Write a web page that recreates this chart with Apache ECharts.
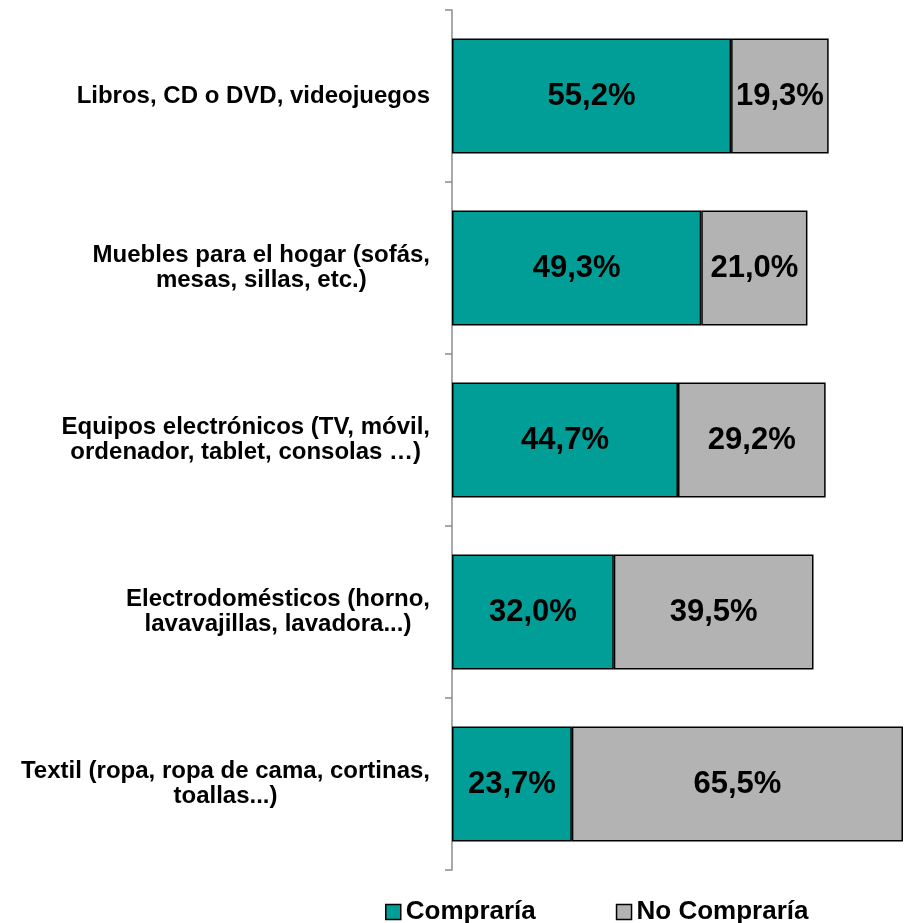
<!DOCTYPE html>
<html>
<head>
<meta charset="utf-8">
<script src="https://cdn.jsdelivr.net/npm/echarts@6/dist/echarts.min.js"></script>
<style>
html,body{margin:0;padding:0;background:#fff;}
#c{width:905px;height:923px;}
</style>
</head>
<body>
<div id="c"></div>
<script>
const categories = [
  "Libros, CD o DVD, videojuegos",
  "Muebles para el hogar (sofás,\nmesas, sillas, etc.)",
  "Equipos electrónicos (TV, móvil,\nordenador, tablet, consolas …)",
  "Electrodomésticos (horno,\nlavavajillas, lavadora...)",
  "Textil (ropa, ropa de cama, cortinas,\ntoallas...)"
];
const compraria = [55.2, 49.3, 44.7, 32.0, 23.7];
const noCompraria = [19.3, 21.0, 29.2, 39.5, 65.5];
const seriesNames = ["Compraría", "No Compraría"];

const FONT = "'Liberation Sans', Arial, sans-serif";
const fmt = p => p.value.toFixed(1).replace('.', ',') + '%';

const chart = echarts.init(document.getElementById('c'), null, {renderer: 'canvas'});
chart.setOption({
  animation: false,
  backgroundColor: '#ffffff',
  textStyle: {fontFamily: FONT},
  grid: {left: 452, right: 2, top: 10, bottom: 53, containLabel: false},
  legend: {
    data: seriesNames,
    left: 385,
    top: 899,
    padding: 0,
    icon: 'rect',
    itemWidth: 15,
    itemHeight: 15,
    itemGap: 80,
    textStyle: {fontSize: 26, fontWeight: 'bold', color: '#000', fontFamily: FONT},
    itemStyle: {borderColor: '#000', borderWidth: 1.5}
  },
  xAxis: {
    type: 'value',
    min: 0,
    max: 89.2,
    show: false
  },
  yAxis: {
    type: 'category',
    data: categories,
    inverse: true,
    axisLine: {show: true, lineStyle: {color: '#8c8c8c', width: 1.5}},
    axisTick: {show: true, length: 7, lineStyle: {color: '#8c8c8c', width: 1.5}},
    axisLabel: {
      margin: 22,
      formatter: v => v.split('\n').map(l => '{c|' + l + '}').join('\n'),
      rich: {
        c: {align: 'center', fontSize: 24, fontWeight: 'bold', color: '#000', fontFamily: FONT, lineHeight: 25}
      }
    },
    splitLine: {show: false}
  },
  series: [
    {
      name: seriesNames[0],
      type: 'bar',
      stack: 'total',
      data: compraria,
      barWidth: 115,
      itemStyle: {color: '#009E96', borderColor: '#000', borderWidth: 1.5},
      label: {show: true, position: 'inside', formatter: fmt, fontSize: 31, fontWeight: 'bold', color: '#000', fontFamily: FONT}
    },
    {
      name: seriesNames[1],
      type: 'bar',
      stack: 'total',
      data: noCompraria,
      barWidth: 115,
      itemStyle: {color: '#B3B3B3', borderColor: '#000', borderWidth: 1.5},
      label: {show: true, position: 'inside', formatter: fmt, fontSize: 31, fontWeight: 'bold', color: '#000', fontFamily: FONT}
    }
  ]
});
</script>
</body>
</html>
